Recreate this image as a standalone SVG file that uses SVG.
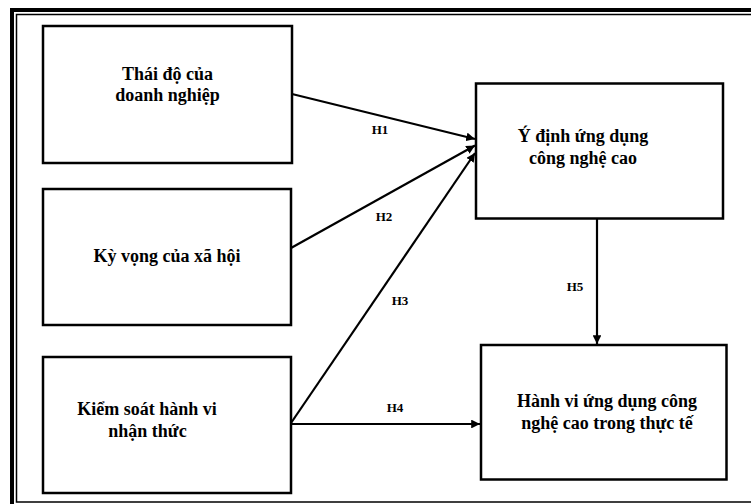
<svg xmlns="http://www.w3.org/2000/svg" width="751" height="504" viewBox="0 0 751 504">
<style>
.box{fill:#fff;stroke:#000;stroke-width:2.5}
.t{font-family:"Liberation Serif","Times New Roman",serif;font-weight:bold;font-size:18px;fill:#000;text-anchor:middle}
.h{font-family:"Liberation Serif","Times New Roman",serif;font-weight:bold;font-size:13px;fill:#000;text-anchor:middle}
.c{stroke:#000;stroke-width:2.2;fill:none}
</style>
<defs>
<marker id="ah" viewBox="0 0 10 10" refX="10" refY="5" markerWidth="4" markerHeight="4" orient="auto" markerUnits="strokeWidth">
<path d="M0,0 L10,5 L0,10 z" fill="#000"/>
</marker>
</defs>
<rect width="751" height="504" fill="#fff"/>
<g id="frame">
<path d="M12,504 V10 H751" fill="none" stroke="#000" stroke-width="4"/>
<path d="M751,14.5 H16.5 V502 H751" fill="none" stroke="#000" stroke-width="1.5"/>
</g>
<g id="n1">
<rect class="box" x="43" y="26" width="249" height="137"/>
<text class="t" x="167.5" y="80">Thái độ của</text>
<text class="t" x="167.5" y="101">doanh nghiệp</text>
</g>
<g id="n2">
<rect class="box" x="43" y="189" width="248" height="136"/>
<text class="t" x="167" y="262">Kỳ vọng của xã hội</text>
</g>
<g id="n3">
<rect class="box" x="43" y="357" width="248" height="136"/>
<text class="t" x="147" y="415">Kiểm soát hành vi</text>
<text class="t" x="147.5" y="437">nhận thức</text>
</g>
<g id="n4">
<rect class="box" x="476" y="83.5" width="247" height="135"/>
<text class="t" x="583" y="142">Ý định ứng dụng</text>
<text class="t" x="583" y="163.5">công nghệ cao</text>
</g>
<g id="n5">
<rect class="box" x="481" y="345" width="245.5" height="134.5"/>
<text class="t" x="607" y="407">Hành vi ứng dụng công</text>
<text class="t" x="607" y="428.5">nghệ cao trong thực tế</text>
</g>
<g id="connectors">
<line class="c" x1="292" y1="94" x2="475" y2="139" marker-end="url(#ah)"/>
<line class="c" x1="291" y1="248" x2="475" y2="145.5" marker-end="url(#ah)"/>
<line class="c" x1="291" y1="423" x2="475" y2="153" marker-end="url(#ah)"/>
<line class="c" x1="291" y1="424" x2="480" y2="424" marker-end="url(#ah)"/>
<line class="c" x1="597" y1="218.5" x2="597" y2="344" marker-end="url(#ah)"/>
<text class="h" x="380" y="134">H1</text>
<text class="h" x="384" y="221">H2</text>
<text class="h" x="400" y="305">H3</text>
<text class="h" x="395" y="412">H4</text>
<text class="h" x="575" y="291">H5</text>
</g>
</svg>
